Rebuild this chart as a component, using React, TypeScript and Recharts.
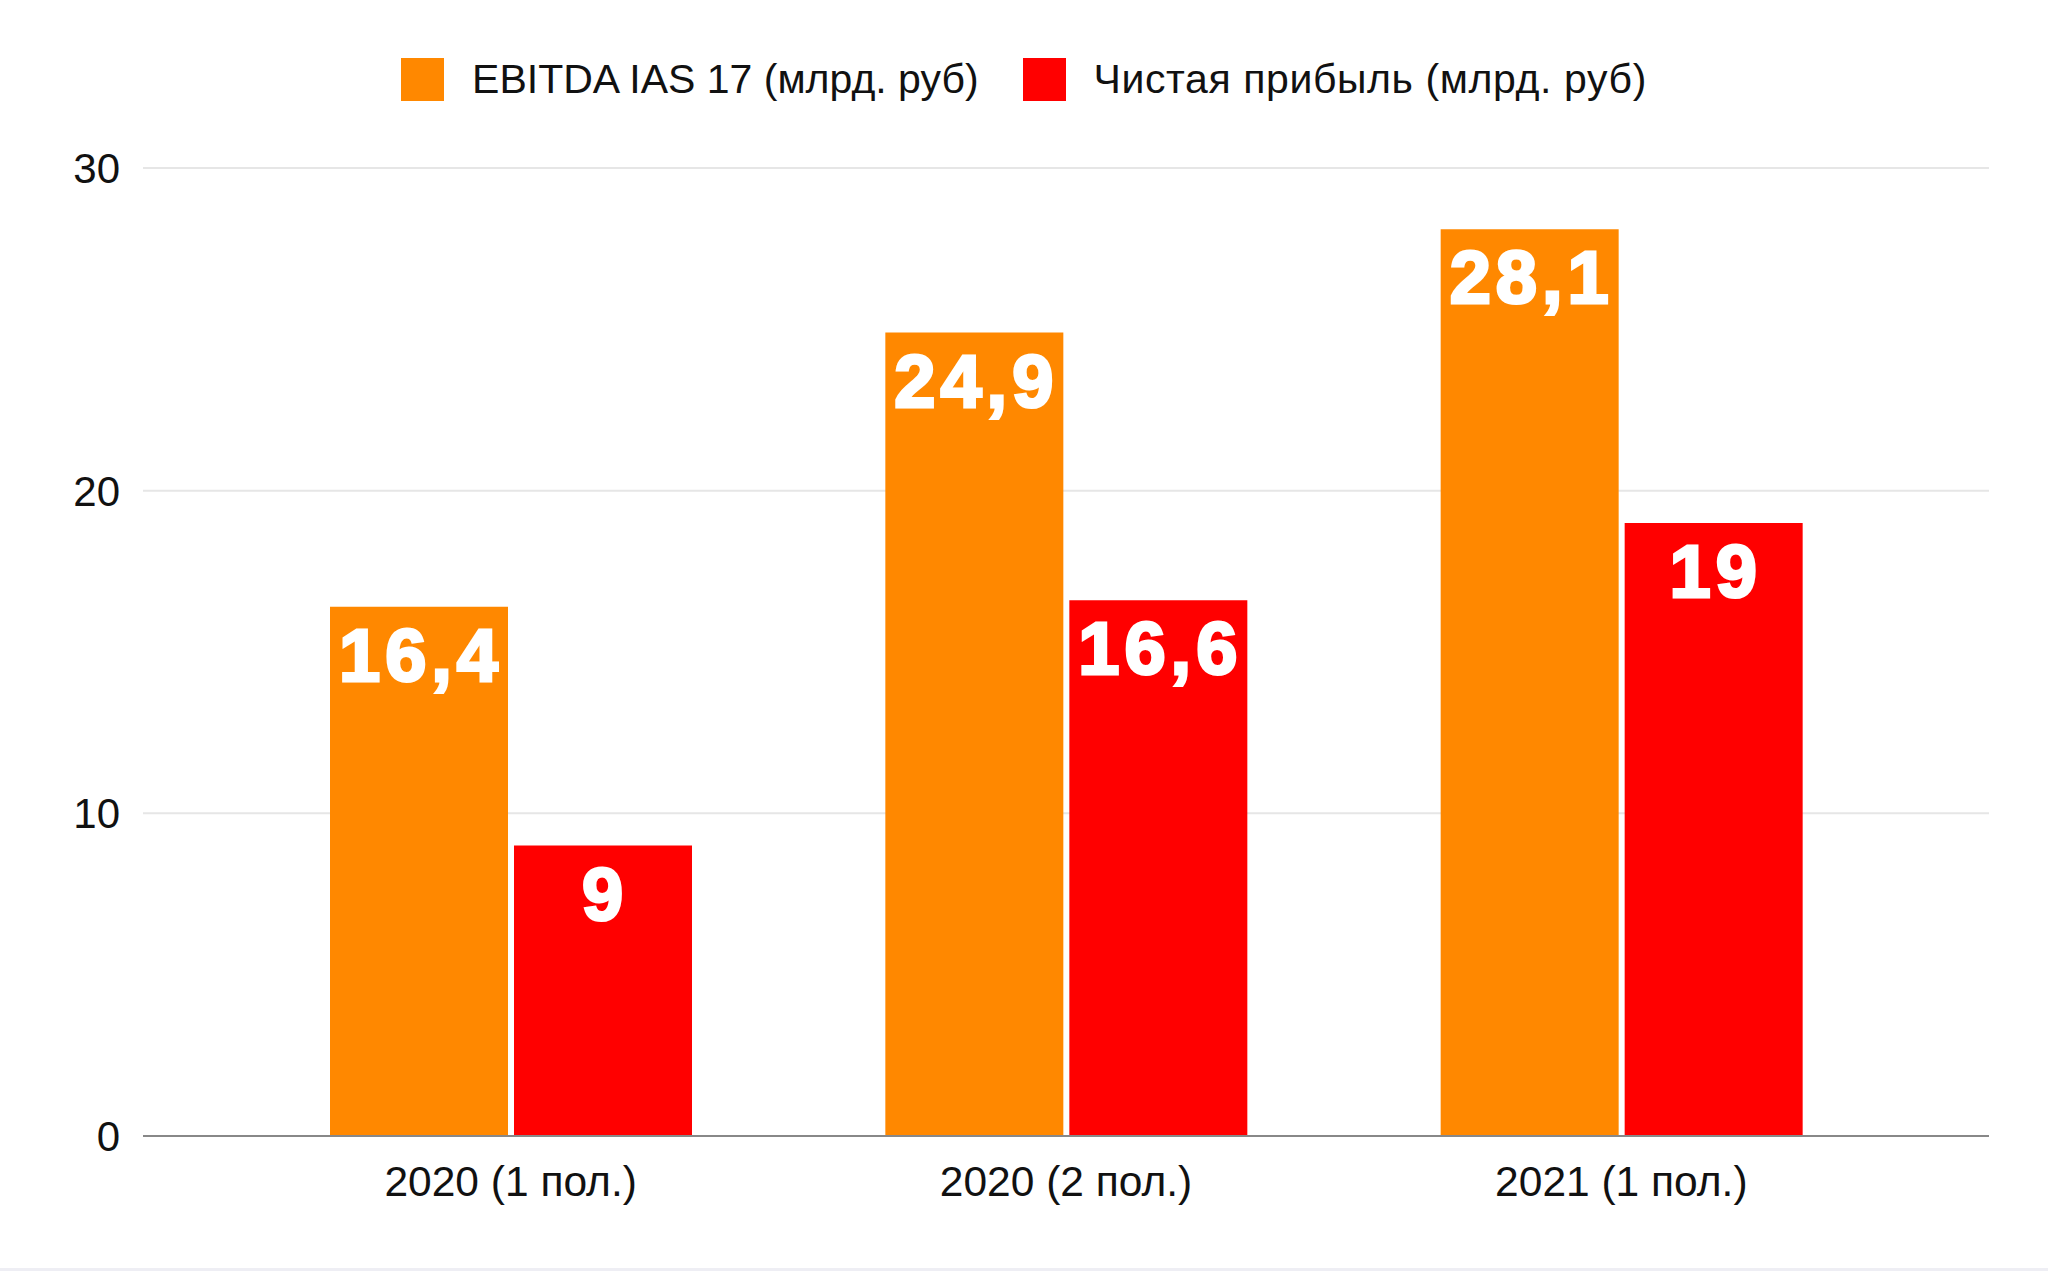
import { BarChart, Bar, XAxis, YAxis, CartesianGrid, LabelList } from 'recharts'

const categories = ['2020 (1 пол.)', '2020 (2 пол.)', '2021 (1 пол.)']
const ebitda = [16.4, 24.9, 28.1]
const netProfit = [9, 16.6, 19]
const yTicks = [0, 10, 20, 30]

const SERIES = [
  { key: 'ebitda', name: 'EBITDA IAS 17 (млрд. руб)', color: '#FF8800' },
  { key: 'netProfit', name: 'Чистая прибыль (млрд. руб)', color: '#FF0000' },
]

const data = categories.map((label, i) => ({
  label,
  ebitda: ebitda[i],
  netProfit: netProfit[i],
}))

const FONT = '"Liberation Sans", Arial, sans-serif'

function ValueLabel(props: any) {
  const { x, y, width, value } = props
  return (
    <text
      x={x + width / 2 + 2}
      y={y + 74}
      textAnchor="middle"
      fill="#fff"
      stroke="#fff"
      strokeWidth={3}
      fontFamily={FONT}
      fontWeight="bold"
      fontSize={74}
      letterSpacing={5}
    >
      {String(value).replace('.', ',')}
    </text>
  )
}

function LegendRow() {
  return (
    <div
      style={{
        position: 'absolute',
        top: 58,
        left: 0,
        width: 2048,
        display: 'flex',
        justifyContent: 'center',
        alignItems: 'center',
        fontFamily: FONT,
        fontSize: 41,
        color: '#111',
        height: 43,
      }}
    >
      {SERIES.map((s, i) => (
        <div
          key={s.key}
          style={{ display: 'flex', alignItems: 'center', marginLeft: i ? 44 : 0 }}
        >
          <div style={{ width: 43, height: 43, background: s.color, marginRight: 28 }} />
          <span style={{ whiteSpace: 'nowrap', letterSpacing: i ? 0.6 : 0 }}>{s.name}</span>
        </div>
      ))}
    </div>
  )
}

export default function App() {
  return (
    <div
      style={{
        position: 'absolute',
        left: 0,
        top: 0,
        width: 2048,
        height: 1271,
        background: '#fff',
        overflow: 'hidden',
      }}
    >
      <LegendRow />
      <BarChart
        width={2048}
        height={1268}
        data={data}
        margin={{ top: 168, right: 59, left: 0, bottom: 72 }}
        barSize={178}
        barGap={6}
      >
        <CartesianGrid vertical={false} stroke="#e6e6e6" strokeWidth={2} />
        <XAxis
          dataKey="label"
          height={60}
          padding={{ left: 90, right: 90 }}
          axisLine={{ stroke: '#888', strokeWidth: 2 }}
          tickLine={false}
          tickSize={0}
          tickMargin={30}
          tick={{ fill: '#111', fontSize: 42.5, fontFamily: FONT }}
        />
        <YAxis
          width={143}
          domain={[0, 30]}
          ticks={yTicks}
          axisLine={false}
          tickLine={false}
          tickSize={0}
          tickMargin={23}
          tick={{ fill: '#111', fontSize: 42, fontFamily: FONT }}
        />
        {SERIES.map((s) => (
          <Bar key={s.key} dataKey={s.key} name={s.name} fill={s.color} isAnimationActive={false}>
            <LabelList dataKey={s.key} content={ValueLabel} />
          </Bar>
        ))}
      </BarChart>
      <div style={{ position: 'absolute', left: 0, top: 1268, width: 2048, height: 3, background: '#eeeef4' }} />
    </div>
  )
}
